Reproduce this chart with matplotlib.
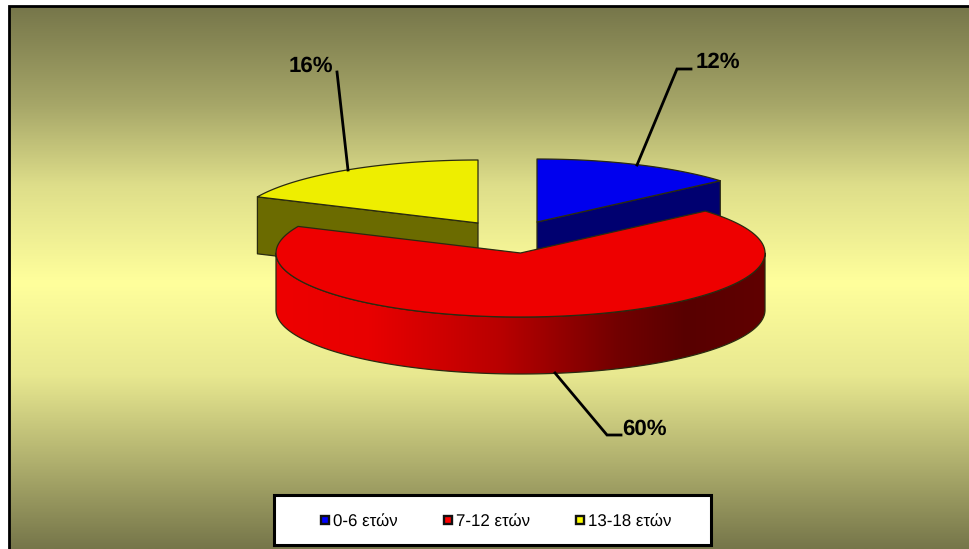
import numpy as np
import matplotlib
matplotlib.use("Agg")
import matplotlib.pyplot as plt
from matplotlib.colors import LinearSegmentedColormap
from matplotlib.patches import Polygon, Rectangle

plt.rcParams["font.family"] = ["Liberation Sans", "DejaVu Sans"]
plt.rcParams["text.hinting"] = "none"
plt.rcParams["text.kerning_factor"] = 0

# data
labels = ["0-6 ετών", "7-12 ετών", "13-18 ετών"]
values = [12, 60, 16]
value_labels = ["12%", "60%", "16%"]

# look of each slice
top_colors = ["#0000ee", "#ee0000", "#eeee00"]
side_colors = ["#000070", "#ee0000", "#6b6b00"]
legend_colors = ["#0000ff", "#ff0000", "#ffff00"]
centers = [(537, 222), (520.5, 253), (478, 223)]
radii = [(242.5, 63), (244.5, 64), (242.5, 63)]
depth = 57

W, H = 970, 549
fig = plt.figure(figsize=(W / 100, H / 100), dpi=100)
ax = fig.add_axes([0, 0, 1, 1])
ax.axis("off")

# background gradient, dark olive - pale yellow - dark olive
bg_cmap = LinearSegmentedColormap.from_list(
    "bg", [(0, "#76764a"), (0.18, "#a6a668"), (0.33, "#dede8a"), (0.51, "#ffff9c"),
           (0.68, "#e8e890"), (0.84, "#b0b06e"), (1, "#76764a")])
ax.imshow(np.linspace(0, 1, 256).reshape(-1, 1), cmap=bg_cmap, aspect="auto",
          extent=[9, W + 3, H, 6], zorder=0, vmin=0, vmax=1)
ax.plot([9, 9, W + 3], [H, 6, 6], color="black", lw=2.0, zorder=1, solid_joinstyle="miter")


def arc(i, a0, a1):
    # angle is clockwise from 12 o'clock
    cx, cy = centers[i]
    rx, ry = radii[i]
    t = np.radians(np.linspace(a0, a1, 200))
    return np.column_stack([cx + rx * np.sin(t), cy - ry * np.cos(t)])


angles = np.cumsum([0] + values) / sum(values) * 360
outline = {"ec": "#2a2a10", "lw": 0.9, "joinstyle": "round"}

# back slices: wall first, then the top
for i in [2, 0]:
    cx, cy = centers[i]
    a0, a1 = angles[i], angles[i + 1]
    end = arc(i, a0, a1)[0 if i == 2 else -1]
    wall = [(cx, cy), tuple(end), (end[0], end[1] + depth), (cx, cy + depth)]
    ax.add_patch(Polygon(wall, fc=side_colors[i], zorder=2, **outline))
    top = np.vstack([[(cx, cy)], arc(i, a0, a1)])
    ax.add_patch(Polygon(top, fc=top_colors[i], zorder=3, **outline))

# big red slice, front wall with the horizontal shading
cx, cy = centers[1]
rx, ry = radii[1]
front = arc(1, 90, 270)
side = np.vstack([front, front[::-1] + [0, depth]])
side_patch = Polygon(side, fc="none", ec="none", zorder=4)
ax.add_patch(side_patch)
red_cmap = LinearSegmentedColormap.from_list(
    "red", [(0, "#ee0000"), (0.19, "#e80000"), (0.33, "#d00000"), (0.46, "#b80000"),
            (0.57, "#980000"), (0.70, "#720000"), (0.84, "#580000"), (1, "#600000")])
shade = ax.imshow(np.linspace(0, 1, 256).reshape(1, -1), cmap=red_cmap, aspect="auto",
                  extent=[cx - rx, cx + rx, cy + ry + depth + 2, cy - 2], zorder=4)
shade.set_clip_path(side_patch)
ax.add_patch(Polygon(side, fc="none", zorder=5, **outline))
top = np.vstack([[(cx, cy)], arc(1, angles[1], angles[2])])
ax.add_patch(Polygon(top, fc=top_colors[1], zorder=6, **outline))

# leader lines and value labels
leaders = [[(691, 69), (677, 69), (637, 165)],
           [(555, 373), (607, 435), (621, 435)],
           [(337, 72), (348, 170)]]
label_pos = [(695.5, 60), (622.5, 427), (333.5, 64)]
label_ha = ["left", "left", "right"]
for i in range(3):
    xs, ys = zip(*leaders[i])
    ax.plot(xs, ys, color="black", lw=2.0, zorder=7, solid_joinstyle="miter")
    ax.text(label_pos[i][0], label_pos[i][1], value_labels[i], fontsize=16, fontweight="bold",
            ha=label_ha[i], va="center_baseline", zorder=8)

# legend box, drawn by hand to sit where the original has it
ax.add_patch(Rectangle((274.5, 494.5), 437, 50, fc="white", ec="black", lw=2.2, zorder=7))
legend_x = [325.5, 448.5, 580.5]
for i in range(3):
    ax.plot(legend_x[i], 520, ls="none", marker="s", ms=6, mfc=legend_colors[i],
            mec="#111111", mew=1.7, zorder=8)
    ax.text(legend_x[i] + 7.5, 520, labels[i], fontsize=12.2, ha="left", va="center_baseline",
            zorder=8)

ax.set_xlim(0, W)
ax.set_ylim(H, 0)
fig.savefig("out.png", dpi=100)
